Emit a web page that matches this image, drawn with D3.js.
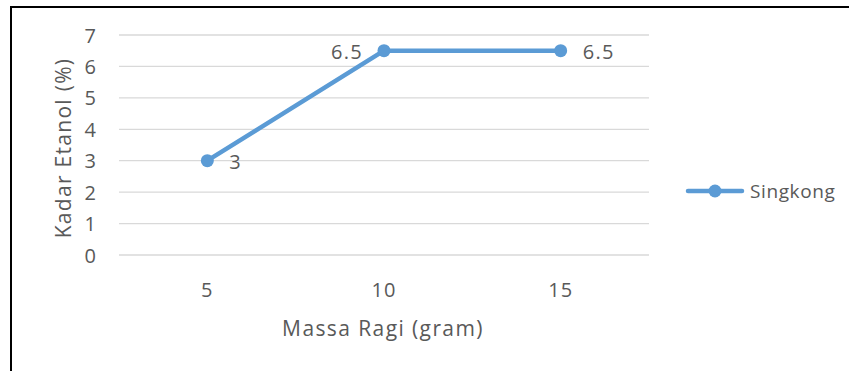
<!DOCTYPE html>
<html>
<head>
<meta charset="utf-8">
<script src="https://cdn.jsdelivr.net/npm/d3@7"></script>
<style>
  html, body { margin: 0; padding: 0; background: #fff; }
  svg text { font-family: "Open Sans", sans-serif; fill: #595959; }
</style>
</head>
<body>
<svg id="chart" width="849" height="371"></svg>
<script>
// Ethanol content by yeast mass
const categories = ["5", "10", "15"];
const singkong = [3, 6.5, 6.5];
const yTicks = [0, 1, 2, 3, 4, 5, 6, 7];
const seriesName = "Singkong";
const xTitle = "Massa Ragi (gram)";
const yTitle = "Kadar Etanol (%)";
// label side for each point: right, left, right
const labelSide = ["right", "left", "right"];

const svg = d3.select("#chart");
const color = "#5B9BD5";
const font = "'Open Sans', sans-serif";
const tickSize = 20, titleSize = 21;

// frame: top and left edges
svg.append("line").attr("x1", 11).attr("x2", 849).attr("y1", 7).attr("y2", 7)
  .attr("stroke", "#000").attr("stroke-width", 2);
svg.append("line").attr("x1", 11).attr("x2", 11).attr("y1", 6).attr("y2", 371)
  .attr("stroke", "#000").attr("stroke-width", 2);

const plot = { left: 119, right: 649, top: 35, bottom: 255 };

const x = d3.scaleBand().domain(categories).range([plot.left, plot.right]);
const y = d3.scaleLinear().domain([0, 7]).range([plot.bottom, plot.top]);

// horizontal gridlines
svg.append("g").selectAll("line").data(yTicks).join("line")
  .attr("x1", plot.left).attr("x2", plot.right)
  .attr("y1", d => y(d)).attr("y2", d => y(d))
  .attr("stroke", "#D9D9D9").attr("stroke-width", 1.3);

// y axis labels
const yAxis = d3.axisLeft(y).tickValues(yTicks).tickSize(0).tickPadding(0).tickFormat(d3.format("d"));
const gy = svg.append("g").attr("transform", "translate(96,0)").call(yAxis);
gy.select(".domain").remove();
gy.selectAll("text").attr("font-size", tickSize).attr("dy", "0.35em")
  .style("font-family", font).attr("fill", "#595959");

// x axis labels
const xAxis = d3.axisBottom(x).tickSize(0).tickPadding(0);
const gx = svg.append("g").attr("transform", "translate(0,290)").call(xAxis);
gx.select(".domain").remove();
gx.selectAll("text").attr("font-size", tickSize).attr("dy", "0.35em")
  .attr("letter-spacing", 1).style("font-family", font).attr("fill", "#595959");

// axis titles
svg.append("text").attr("x", (plot.left + plot.right) / 2 - 1).attr("y", 329)
  .attr("text-anchor", "middle").attr("dy", "0.35em").attr("font-size", titleSize)
  .attr("letter-spacing", 1.4).text(xTitle);
svg.append("text").attr("transform", "translate(64,148) rotate(-90)")
  .attr("text-anchor", "middle").attr("dy", "0.35em").attr("font-size", titleSize)
  .attr("letter-spacing", 1.3).text(yTitle);

// series line
const cx = (d, i) => x(categories[i]) + x.bandwidth() / 2;
const line = d3.line().x((d, i) => cx(d, i)).y(d => y(d));
svg.append("path").datum(singkong).attr("d", line)
  .attr("fill", "none").attr("stroke", color).attr("stroke-width", 4.5)
  .attr("stroke-linejoin", "round").attr("stroke-linecap", "round");

svg.append("g").selectAll("circle").data(singkong).join("circle")
  .attr("cx", (d, i) => cx(d, i)).attr("cy", d => y(d)).attr("r", 6.5)
  .attr("fill", color);

// data labels
svg.append("g").selectAll("text").data(singkong).join("text")
  .attr("x", (d, i) => labelSide[i] === "right" ? cx(d, i) + 22 : cx(d, i) - 21)
  .attr("y", d => y(d) + 1)
  .attr("text-anchor", (d, i) => labelSide[i] === "right" ? "start" : "end")
  .attr("dy", "0.35em").attr("font-size", tickSize).attr("letter-spacing", 1.3)
  .attr("fill", "#404040")
  .text(d => d);

// legend
const lg = svg.append("g").attr("transform", "translate(688,191)");
lg.append("line").attr("x1", 0).attr("x2", 54).attr("y1", 0).attr("y2", 0)
  .attr("stroke", color).attr("stroke-width", 4.5).attr("stroke-linecap", "round");
lg.append("circle").attr("cx", 27).attr("cy", 0).attr("r", 6.5).attr("fill", color);
lg.append("text").attr("x", 62).attr("y", 0).attr("dy", "0.35em").attr("font-size", 19)
  .attr("letter-spacing", 0.6).text(seriesName);
</script>
</body>
</html>
